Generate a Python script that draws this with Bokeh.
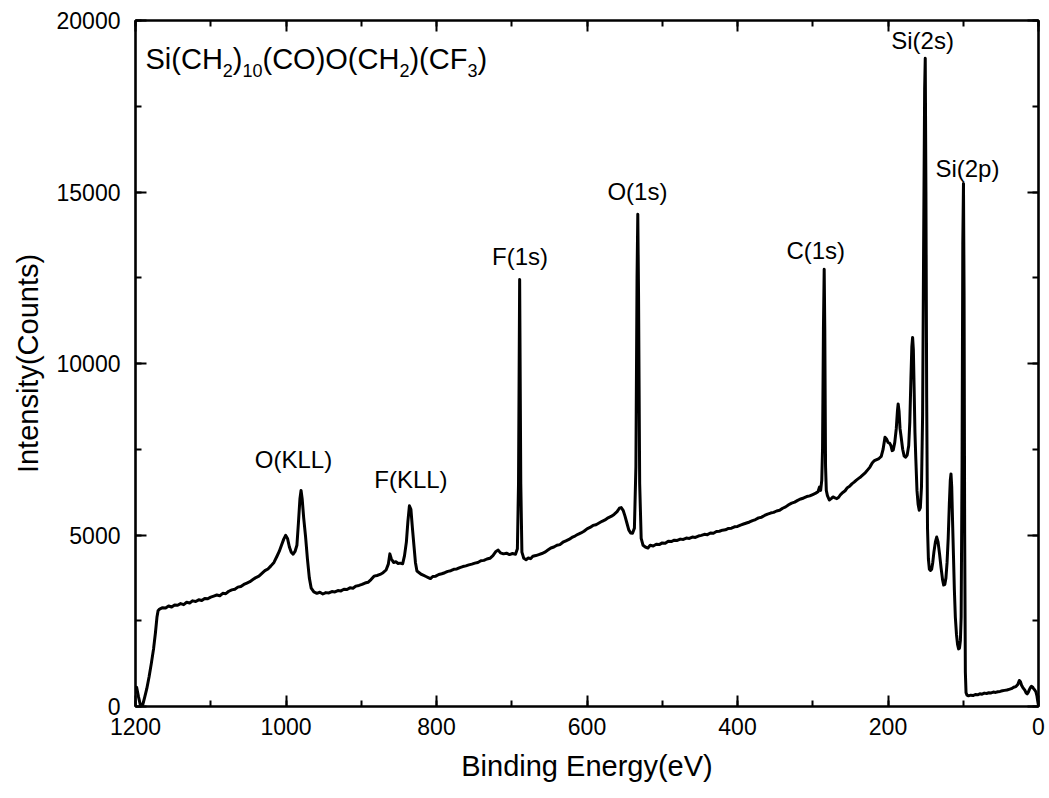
from bokeh.plotting import figure
from bokeh.models import Range1d, LinearAxis, SingleIntervalTicker, Label
from bokeh.embed import file_html
from bokeh.resources import INLINE

FONT = "Liberation Sans"

# ---------------- data ----------------
be_onset = [1200, 1198.5, 1196, 1193.5, 1191, 1188, 1185, 1182, 1179, 1176, 1173.5, 1171.5, 1170,
            1168, 1164, 1160, 1156, 1152, 1148, 1144, 1140, 1136, 1132, 1128, 1124, 1120, 1116,
            1112, 1108, 1104, 1100, 1096, 1092, 1088, 1084, 1080, 1076, 1072, 1068, 1064, 1060,
            1056, 1052, 1048, 1044, 1040, 1036, 1032, 1028, 1024, 1020, 1016, 1012, 1009]
cts_onset = [380, 560, 280, 40, 0, 250, 520, 860, 1250, 1680, 2150, 2600, 2790,
             2840, 2880, 2870, 2930, 2900, 2960, 2950, 3000, 2970, 3040, 3020, 3080, 3060, 3110,
             3090, 3150, 3140, 3190, 3220, 3250, 3230, 3300, 3290, 3360, 3400, 3420, 3480, 3500,
             3560, 3600, 3640, 3700, 3760, 3800, 3880, 3960, 4010, 4100, 4200, 4380, 4520]

be_auger = [1006, 1003, 1000.5, 998, 995.5, 993, 990.5, 988, 985.5, 983.5, 981.5, 980, 978.5,
            976.5, 974, 971.5, 969, 966.5, 963, 959, 955, 951, 947, 943, 939, 935, 931, 927, 923,
            919, 915, 911, 907, 903, 899, 895, 891, 887, 883, 879, 875, 871, 867, 864, 862, 860,
            857, 854, 851, 848, 845, 842.5, 840, 838, 836, 834, 832, 830, 828, 826, 823, 820, 817,
            814, 811, 808, 805, 801, 797, 793, 789, 785, 781, 777, 773, 769, 765, 761, 757, 753,
            749, 745, 741, 737, 733, 729, 725, 721, 718, 715, 711, 707, 703, 699, 695]
cts_auger = [4700, 4880, 4990, 4900, 4650, 4500, 4440, 4520, 4700, 5350, 6050, 6300, 6050,
             5500, 4950, 4300, 3750, 3450, 3340, 3300, 3330, 3280, 3320, 3310, 3350, 3340, 3380, 3370, 3420,
             3410, 3460, 3450, 3510, 3530, 3560, 3600, 3620, 3700, 3800, 3820, 3850, 3900, 3980, 4150, 4450, 4300,
             4200, 4220, 4170, 4180, 4160, 4400, 4800, 5400, 5850, 5750, 5200, 4700, 4200, 3950, 3900, 3850, 3820,
             3790, 3760, 3730, 3790, 3800, 3850, 3870, 3900, 3940, 3960, 4000, 4010, 4050, 4080, 4100, 4130, 4150,
             4180, 4200, 4250, 4260, 4300, 4320, 4400, 4520, 4560, 4480, 4450, 4470, 4430, 4460, 4440]

be_core = [692.5, 691, 689.5, 688, 686.5, 684, 681, 678, 675, 672, 668, 664, 660, 656, 652, 648,
           644, 640, 636, 632, 628, 624, 620, 616, 612, 608, 604, 600, 596, 592, 588, 584, 580,
           576, 572, 568, 564, 560, 557, 554.5, 552, 549.5, 547, 544.5, 542, 539.5, 537, 535,
           533.5, 532.5, 531.5, 530, 528, 525.5, 522.5, 519, 516, 512, 508, 504, 500, 496, 492,
           488, 484, 480, 476, 472, 468, 464, 460, 456, 452, 448, 444, 440, 436, 432, 428, 424,
           420, 416, 412, 408, 404, 400, 396, 392, 388, 384, 380, 376, 372, 368, 364, 360, 356,
           352, 348, 344, 340, 336, 332, 328, 324, 320, 316, 312, 308, 304, 300, 296, 293]
cts_core = [4600, 6500, 12450, 6500, 4500, 4320, 4280, 4330, 4310, 4380, 4400, 4430, 4460, 4500, 4560, 4620,
            4650, 4700, 4720, 4790, 4830, 4870, 4930, 4970, 5020, 5060, 5110, 5180, 5220, 5280, 5300, 5350, 5400,
            5440, 5500, 5540, 5600, 5680, 5780, 5800, 5720, 5550, 5350, 5150, 5060, 5050, 5200, 7000,
            12500, 14350, 12000, 6500, 4900, 4700, 4650, 4620, 4700, 4680, 4730, 4720, 4770, 4760, 4820,
            4810, 4850, 4840, 4880, 4870, 4910, 4900, 4940, 4930, 4970, 4990, 5020, 5010, 5060, 5050, 5100, 5110,
            5140, 5150, 5190, 5200, 5240, 5250, 5290, 5320, 5350, 5380, 5420, 5450, 5500, 5520, 5570, 5610, 5640,
            5660, 5700, 5720, 5780, 5820, 5880, 5930, 5960, 6010, 6050, 6080, 6120, 6140, 6180, 6220, 6260]

be_si = [291, 289.5, 288, 287, 285.8, 284.8, 284, 283, 282, 280.5, 278, 275.5, 273, 270.5, 268,
         265.5, 263, 260, 257, 254, 251, 248, 245, 242, 239, 236, 233, 230, 227, 224, 221, 218,
         215, 212, 209, 206.5, 204, 202, 200, 198, 196, 194.5, 193, 191, 189, 187.5, 186.5, 185.3,
         184, 182.5, 180.5, 178.5, 176.5, 174.5, 172.5, 171, 169.5, 168.3, 167.3, 166.3, 165.3,
         164.2, 163, 161.5, 160, 158.5, 157, 155.5, 154, 152.5, 151.3, 150.5, 149.6, 148.6, 147.5,
         146.3, 145, 143.5, 142, 140.5, 139, 137, 135.3, 133.5, 131.5, 129.5, 127.5, 126, 124.5,
         123, 121.5, 120, 118.5, 117.2, 116.3, 115.3, 114.2, 113, 111.8, 110.5, 109, 107.5, 106.2,
         105, 103.8, 102.8, 101.6, 100.6, 99.7, 98.9, 98.1, 97.2, 96.3, 95, 93, 90, 87, 84, 81,
         78, 75, 72, 69, 66, 63, 60, 57, 54, 51, 48, 45, 42, 39, 36, 33, 30, 27.5, 25.5, 24,
         22.5, 21, 19.5, 18, 16.5, 15, 13.5, 12, 10.5, 9.5, 8, 6.5, 5, 3.5, 2, 1, 0]
cts_si = [6400, 6300, 6600, 7500, 11000, 12750, 11000, 7000, 6300, 6150, 6020, 6060, 6110, 6080, 6060,
          6100, 6180, 6240, 6290, 6380, 6420, 6490, 6540, 6600, 6650, 6700, 6760, 6820, 6900, 6980, 7100, 7170,
          7200, 7230, 7290, 7500, 7850, 7800, 7700, 7680, 7600, 7460, 7480, 7700, 8100, 8600, 8820, 8600,
          8100, 7850, 7500, 7300, 7270, 7330, 7600, 8300, 9600, 10500, 10760, 10400, 9300,
          8000, 7200, 6300, 5900, 5720, 5800, 6400, 8500, 14000, 18000, 18900, 15000, 9000, 5200,
          4300, 4000, 3965, 4000, 4200, 4500, 4800, 4940, 4800, 4450, 4050, 3700, 3540, 3560,
          3750, 4200, 4900, 5900, 6600, 6780, 6400, 5400, 4400, 3400, 2600, 2100, 1800, 1680,
          1700, 1920, 2600, 7000, 13500, 15250, 12000, 5000, 1000, 400, 330, 310, 330, 320, 350, 340,
          370, 360, 390, 380, 400, 395, 420, 410, 430, 440, 460, 470, 480, 500, 520, 560, 580, 640, 760, 720,
          620, 560, 515, 470, 400, 370, 420, 500, 560, 590, 570, 520, 480, 430, 300, 150, 30]

energy = be_onset + be_auger + be_core + be_si
counts = cts_onset + cts_auger + cts_core + cts_si

peak_labels = ["O(KLL)", "F(KLL)", "F(1s)", "O(1s)", "C(1s)", "Si(2s)", "Si(2p)"]
peak_label_x = [990, 834, 689, 533, 296, 154, 94.5]
peak_label_y = [6930, 6350, 12860, 14750, 13020, 19150, 15420]

x_ticks_step = 200
y_ticks_step = 5000

# ---------------- layout ----------------
FL, FT, FW, FH = 135, 20, 903, 686
W, H = 1049, 798
XR = (1200, 0)
YR = (0, 20000)
px_x = FW / (XR[0] - XR[1])
px_y = FH / (YR[1] - YR[0])
BASE_FIX = 0.386  # em: lift so the glyph baseline lands on the anchor

p = figure(frame_width=FW, frame_height=FH,
           x_range=Range1d(*XR), y_range=Range1d(*YR),
           output_backend="svg", toolbar_location=None,
           min_border_left=FL, min_border_top=FT,
           min_border_right=W - FL - FW, min_border_bottom=H - FT - FH,
           background_fill_color="white", border_fill_color="white")
p.xgrid.grid_line_color = None
p.ygrid.grid_line_color = None
p.outline_line_color = "black"
p.outline_line_width = 2

xt = SingleIntervalTicker(interval=x_ticks_step, num_minor_ticks=2)
yt = SingleIntervalTicker(interval=y_ticks_step, num_minor_ticks=2)


def style(ax, show_labels):
    ax.axis_line_width = 2.2
    ax.axis_line_color = "black"
    ax.major_tick_in = 11
    ax.major_tick_out = 0
    ax.minor_tick_in = 6
    ax.minor_tick_out = 0
    ax.major_tick_line_width = 2
    ax.minor_tick_line_width = 2
    ax.major_tick_line_color = "black"
    ax.minor_tick_line_color = "black"
    if show_labels:
        ax.major_label_text_font = FONT
        ax.major_label_text_font_size = "23px"
        ax.major_label_text_color = "black"
        ax.axis_label_text_font = FONT
        ax.axis_label_text_font_size = "29px"
        ax.axis_label_text_font_style = "normal"
        ax.axis_label_text_color = "black"
    else:
        ax.major_label_text_font_size = "0px"
        ax.major_label_standoff = 0
        ax.major_label_text_color = None


xa = p.xaxis[0]
xa.ticker = xt
xa.axis_label = "Binding Energy(eV)"
style(xa, True)
xa.major_label_standoff = 11
xa.axis_label_standoff = 12

ya = p.yaxis[0]
ya.ticker = yt
ya.axis_label = "Intensity(Counts)"
style(ya, True)
ya.major_label_standoff = 15
ya.axis_label_standoff = 10

top = LinearAxis(ticker=SingleIntervalTicker(interval=x_ticks_step, num_minor_ticks=2))
style(top, False)
p.add_layout(top, "above")
right = LinearAxis(ticker=SingleIntervalTicker(interval=y_ticks_step, num_minor_ticks=2))
style(right, False)
p.add_layout(right, "right")

p.line(energy, counts, line_color="black", line_width=3, line_join="round")

LBL = 24
for t, x, y in zip(peak_labels, peak_label_x, peak_label_y):
    p.add_layout(Label(x=x, y=y + BASE_FIX * LBL / px_y, text=t, text_font=FONT,
                       text_font_size=f"{LBL}px", text_align="center",
                       text_baseline="alphabetic", text_color="black"))

# formula label with subscripts, placed in screen pixels then converted to data units
W_ARIAL = {"S": 667, "i": 222, "(": 333, ")": 333, "C": 722, "H": 722, "O": 778, "F": 611,
           "0": 556, "1": 556, "2": 556, "3": 556}
pieces = [("Si(CH", False), ("2", True), (")", False), ("10", True), ("(CO)O(CH", False),
          ("2", True), (")(CF", False), ("3", True), (")", False)]
MAIN, SUB = 29, 18
start_px = 145
base_px, sub_px = 70, 77
cur = start_px
for txt, is_sub in pieces:
    size = SUB if is_sub else MAIN
    xv = XR[0] - (cur - FL) / px_x
    py = (sub_px if is_sub else base_px) - BASE_FIX * size
    yv = YR[1] - (py - FT) / px_y
    p.add_layout(Label(x=xv, y=yv, text=txt, text_font=FONT, text_font_size=f"{size}px",
                       text_align="left", text_baseline="alphabetic", text_color="black"))
    cur += sum(W_ARIAL[c] for c in txt) / 1000 * size

open("out.html", "w").write(file_html(p, INLINE))
